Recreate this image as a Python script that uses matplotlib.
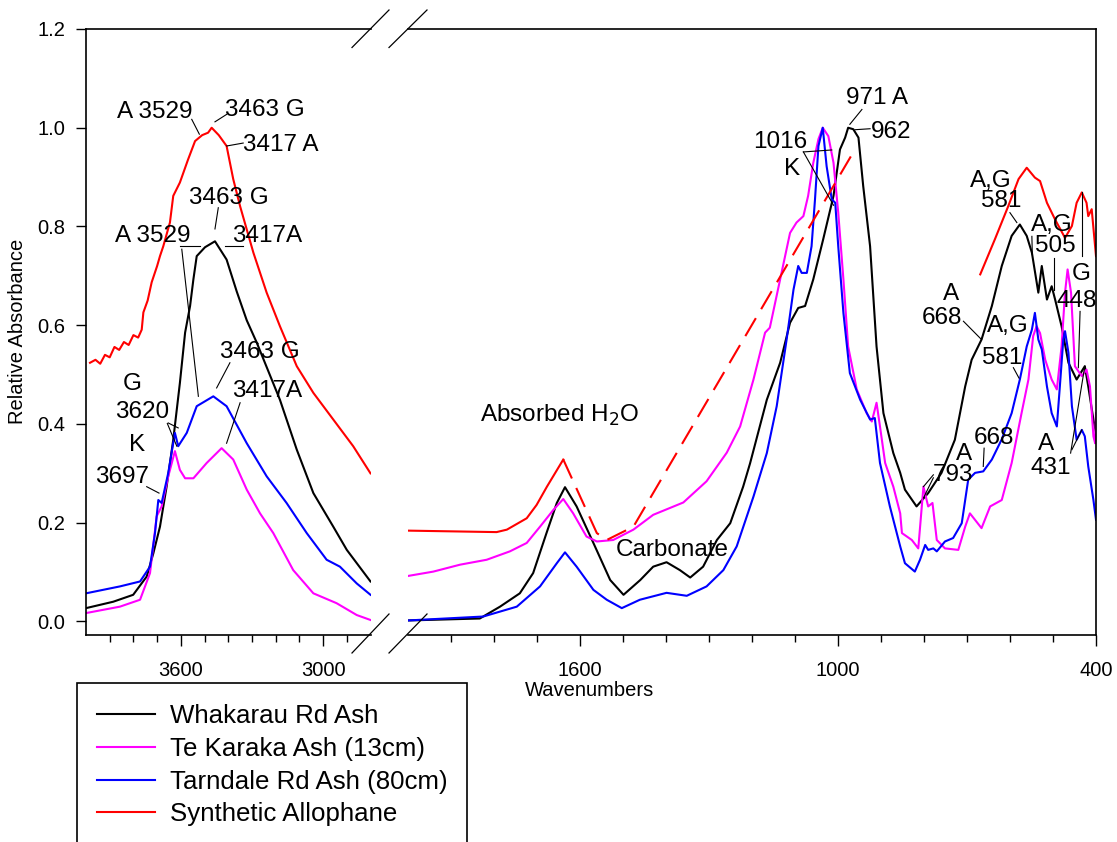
import matplotlib
matplotlib.use("Agg")
import matplotlib.pyplot as plt
from matplotlib.lines import Line2D
from matplotlib.patches import Rectangle

plt.rcParams['font.family'] = ['Liberation Sans', 'DejaVu Sans']

# ---- data: OH-stretch region (left panel) ----
wn_l_black = [4000, 3885, 3801, 3744, 3716, 3688, 3660, 3632, 3604, 3582, 3561, 3547, 3533, 3498, 3456,
              3407, 3364, 3322, 3280, 3182, 3111, 3041, 2957, 2900, 2800]
ab_l_black = [0.027, 0.040, 0.054, 0.091, 0.138, 0.192, 0.273, 0.368, 0.483, 0.585, 0.639, 0.693, 0.740, 0.758, 0.770,
              0.733, 0.668, 0.610, 0.565, 0.449, 0.348, 0.260, 0.192, 0.145, 0.081]

wn_l_mag = [4000, 3857, 3772, 3730, 3702, 3681, 3653, 3625, 3604, 3582, 3547, 3491, 3428, 3379, 3322,
            3266, 3210, 3126, 3041, 2943, 2858, 2800]
ab_l_mag = [0.017, 0.030, 0.044, 0.098, 0.213, 0.233, 0.294, 0.345, 0.307, 0.290, 0.290, 0.321, 0.351, 0.328, 0.267,
            0.219, 0.179, 0.104, 0.057, 0.037, 0.013, 0.003]

wn_l_blue = [4000, 3857, 3772, 3730, 3709, 3695, 3681, 3653, 3625, 3611, 3575, 3533, 3463, 3407, 3322,
             3238, 3154, 3069, 2985, 2929, 2858, 2800]
ab_l_blue = [0.057, 0.071, 0.081, 0.111, 0.179, 0.246, 0.240, 0.301, 0.382, 0.355, 0.382, 0.436, 0.456, 0.436, 0.361,
             0.294, 0.240, 0.179, 0.125, 0.111, 0.077, 0.054]

wn_l_red = [3983, 3960, 3940, 3920, 3900, 3880, 3860, 3840, 3820, 3800, 3780, 3765, 3758, 3740, 3723, 3700,
            3688, 3674, 3646, 3632, 3604, 3570, 3540, 3510, 3485, 3470, 3440, 3407, 3379, 3350, 3294,
            3238, 3182, 3111, 3041, 2957, 2873, 2800]
ab_l_red = [0.524, 0.530, 0.522, 0.540, 0.535, 0.556, 0.550, 0.566, 0.560, 0.580, 0.575, 0.591, 0.626, 0.650, 0.687, 0.720,
            0.740, 0.760, 0.808, 0.862, 0.889, 0.935, 0.973, 0.985, 0.990, 1.000, 0.985, 0.963, 0.896, 0.841, 0.747,
            0.666, 0.598, 0.517, 0.463, 0.409, 0.355, 0.300]

# ---- data: fingerprint region (right panel) ----
wn_r_black = [2000, 1832, 1785, 1739, 1708, 1677, 1653, 1634, 1607, 1568, 1529, 1498, 1459, 1429, 1398, 1367,
              1343, 1313, 1281, 1250, 1220, 1204, 1165, 1134, 1111, 1092, 1076, 1057, 1034, 1010, 995, 983,
              976, 964, 952, 941, 925, 910, 894, 871, 855, 844, 817, 790, 759, 728, 704, 689, 666, 642, 619,
              596, 577, 561, 549, 534, 526, 514, 503, 495, 480, 464, 445, 426, 418, 406, 400]
ab_r_black = [0.002, 0.006, 0.030, 0.057, 0.098, 0.179, 0.240, 0.272, 0.233, 0.159, 0.084, 0.054, 0.084, 0.111, 0.120, 0.104,
              0.089, 0.111, 0.165, 0.199, 0.273, 0.320, 0.449, 0.524, 0.605, 0.635, 0.639, 0.693, 0.774, 0.862, 0.956, 0.980,
              1.000, 0.997, 0.980, 0.882, 0.760, 0.557, 0.422, 0.341, 0.301, 0.267, 0.233, 0.260, 0.301, 0.368, 0.476, 0.530, 0.571, 0.639, 0.720,
              0.781, 0.804, 0.781, 0.747, 0.666, 0.720, 0.652, 0.679, 0.652, 0.598, 0.524, 0.490, 0.517, 0.476, 0.409, 0.382]

wn_r_mag = [2000, 1940, 1878, 1816, 1762, 1723, 1692, 1661, 1638, 1615, 1584, 1560, 1522, 1475, 1429, 1359,
            1305, 1258, 1227, 1196, 1169, 1158, 1134, 1111, 1096, 1080, 1069, 1057, 1045, 1035, 1022, 1010,
            999, 987, 976, 956, 933, 921, 910, 902, 890, 871, 855, 851, 828, 813, 801, 790, 780, 770, 751,
            720, 704, 693, 666, 646, 619, 596, 573, 557, 546, 538, 530, 518, 503, 491, 480, 472, 466, 458,
            449, 433, 422, 414, 406, 402, 400]
ab_r_mag = [0.092, 0.101, 0.115, 0.125, 0.142, 0.159, 0.192, 0.226, 0.248, 0.219, 0.172, 0.162, 0.165, 0.186, 0.216, 0.241,
            0.284, 0.342, 0.395, 0.490, 0.585, 0.595, 0.693, 0.787, 0.808, 0.821, 0.862, 0.929, 0.977, 1.000, 0.983, 0.929,
            0.828, 0.693, 0.557, 0.470, 0.422, 0.405, 0.443, 0.395, 0.321, 0.273, 0.219, 0.179, 0.165, 0.148, 0.273, 0.233, 0.240, 0.165, 0.148,
            0.145, 0.192, 0.219, 0.189, 0.233, 0.246, 0.321, 0.422, 0.490, 0.578, 0.598, 0.584, 0.530, 0.490, 0.470, 0.557, 0.666, 0.713, 0.666,
            0.517, 0.497, 0.510, 0.476, 0.375, 0.361, 0.422]

wn_r_blue = [2000, 1824, 1746, 1692, 1653, 1634, 1607, 1568, 1537, 1502, 1460, 1398, 1351, 1305, 1266, 1235,
             1196, 1165, 1142, 1119, 1103, 1092, 1084, 1072, 1061, 1053, 1045, 1035, 1026, 1014, 1006, 999,
             987, 972, 948, 925, 914, 902, 879, 855, 844, 821, 809, 797, 790, 778, 770, 751, 732, 712, 697,
             681, 662, 642, 619, 596, 577, 561, 549, 542, 534, 526, 514, 503, 491, 484, 476, 472, 464, 456,
             445, 433, 426, 418, 406, 400]
ab_r_blue = [0.002, 0.010, 0.030, 0.071, 0.118, 0.140, 0.111, 0.064, 0.044, 0.027, 0.044, 0.058, 0.052, 0.071, 0.104, 0.152,
             0.253, 0.341, 0.436, 0.571, 0.672, 0.720, 0.706, 0.706, 0.760, 0.855, 0.963, 1.000, 0.922, 0.855, 0.848, 0.760,
             0.625, 0.503, 0.449, 0.409, 0.412, 0.321, 0.233, 0.152, 0.118, 0.101, 0.125, 0.155, 0.145, 0.148, 0.142, 0.162, 0.169, 0.199, 0.287,
             0.301, 0.304, 0.328, 0.369, 0.422, 0.490, 0.557, 0.591, 0.625, 0.571, 0.551, 0.476, 0.422, 0.395, 0.476, 0.571, 0.588, 0.544, 0.436,
             0.368, 0.388, 0.375, 0.314, 0.246, 0.206]

wn_r_red1 = [2000, 1793, 1769, 1723, 1700, 1676, 1638]
ab_r_red1 = [0.184, 0.181, 0.186, 0.209, 0.236, 0.273, 0.328]
wn_r_red_gap = [1638, 1560, 1537, 1475, 967]
ab_r_red_gap = [0.328, 0.179, 0.165, 0.192, 0.946]
wn_r_red2 = [669, 635, 604, 580, 561, 542, 530, 514, 495, 472, 456, 445, 433, 422, 418, 410, 400]
ab_r_red2 = [0.703, 0.774, 0.841, 0.896, 0.919, 0.899, 0.892, 0.848, 0.814, 0.777, 0.801, 0.848, 0.869, 0.848, 0.821, 0.835, 0.740]

series_names = ['Whakarau Rd Ash', 'Te Karaka Ash (13cm)', 'Tarndale Rd Ash (80cm)', 'Synthetic Allophane']
series_colors = ['black', '#ff00ff', '#0000ff', '#ff0000']

fig = plt.figure(figsize=(11.17, 8.42), dpi=100)
W, H = 1117.0, 842.0
bottom = 1 - 634.5 / H
height = (634.5 - 29) / H
axL = fig.add_axes([86 / W, bottom, (370.5 - 86) / W, height])
axR = fig.add_axes([407.5 / W, bottom, (1096 - 407.5) / W, height])

lw = 1.5
axL.plot(wn_l_black, ab_l_black, color='black', lw=lw)
axL.plot(wn_l_mag, ab_l_mag, color='#ff00ff', lw=lw)
axL.plot(wn_l_blue, ab_l_blue, color='#0000ff', lw=lw)
axL.plot(wn_l_red, ab_l_red, color='#ff0000', lw=lw)

axR.plot(wn_r_black, ab_r_black, color='black', lw=lw)
axR.plot(wn_r_mag, ab_r_mag, color='#ff00ff', lw=lw)
axR.plot(wn_r_blue, ab_r_blue, color='#0000ff', lw=lw)
axR.plot(wn_r_red1, ab_r_red1, color='#ff0000', lw=lw)
axR.plot(wn_r_red_gap, ab_r_red_gap, color='#ff0000', lw=lw, ls=(0, (10, 5)))
axR.plot(wn_r_red2, ab_r_red2, color='#ff0000', lw=lw)

ylo, yhi = -0.0264, 1.2
axL.set_xlim(4000, 2800)
axR.set_xlim(2000, 400)
for ax in (axL, axR):
    ax.set_ylim(ylo, yhi)
    for s in ax.spines.values():
        s.set_linewidth(1.2)
    ax.tick_params(axis='x', which='major', direction='out', length=8, width=1, pad=11, labelsize=14.5)
    ax.tick_params(axis='x', which='minor', direction='out', length=5, width=1)

axL.spines['right'].set_visible(False)
axR.spines['left'].set_visible(False)
axL.set_xticks([3600, 3000])
axL.set_xticks([w for w in range(3900, 2800, -100) if w not in (3600, 3000)], minor=True)
axR.set_xticks([1600, 1000, 400])
axR.set_xticks([w for w in range(1900, 400, -100) if w not in (1600, 1000)], minor=True)
axL.set_yticks([0.0, 0.2, 0.4, 0.6, 0.8, 1.0, 1.2])
axL.set_yticklabels(['0.0', '0.2', '0.4', '0.6', '0.8', '1.0', '1.2'])
axL.tick_params(axis='y', direction='out', length=7, width=1, pad=8, labelsize=14.5)
axR.tick_params(axis='y', left=False, right=False, labelleft=False)

fig.text(18 / W, 1 - 331 / H, 'Relative Absorbance', rotation=90, ha='center', va='center', fontsize=14.5)
fig.text(590 / W, 1 - 691 / H, 'Wavenumbers', ha='center', va='center', fontsize=14.5)

# axis-break marks
for xa, xb in ((352, 389), (389, 427)):
    fig.add_artist(Line2D([xa / W, xb / W], [1 - 653 / H, 1 - 614 / H], color='black', lw=0.9))
    fig.add_artist(Line2D([xa / W, xb / W], [1 - 47.5 / H, 1 - 10 / H], color='black', lw=0.9))

fs = 17.5
def lab(ax, x, y, s, ha='left'):
    ax.text(x, y, s, ha=ha, va='center', fontsize=fs)

def lead(ax, x0, y0, x1, y1):
    ax.plot([x0, x1], [y0, y1], color='black', lw=0.8)

# left panel labels
lab(axL, 3868, 1.031, 'A 3529')
lab(axL, 3414, 1.035, '3463 G')
lab(axL, 3337, 0.966, '3417 A')
lead(axL, 3554, 1.017, 3522, 0.987)
lead(axL, 3456, 1.012, 3407, 1.027)
lead(axL, 3407, 0.963, 3337, 0.969)

lab(axL, 3564, 0.857, '3463 G')
lead(axL, 3442, 0.838, 3456, 0.795)
lab(axL, 3878, 0.781, 'A 3529')
lead(axL, 3604, 0.760, 3519, 0.760)
lead(axL, 3596, 0.754, 3526, 0.456)
lab(axL, 3386, 0.781, '3417A')
lead(axL, 3414, 0.760, 3337, 0.760)

lab(axL, 3435, 0.546, '3463 G')
lead(axL, 3393, 0.524, 3449, 0.473)
lab(axL, 3386, 0.466, '3417A')
lead(axL, 3350, 0.443, 3407, 0.361)

lab(axL, 3807, 0.480, 'G', ha='center')
lab(axL, 3878, 0.424, '3620')
lead(axL, 3653, 0.402, 3611, 0.392)
lead(axL, 3657, 0.401, 3617, 0.355)
lab(axL, 3784, 0.358, 'K', ha='center')
lab(axL, 3962, 0.292, '3697')
lead(axL, 3744, 0.273, 3692, 0.260)

# right panel labels
lab(axR, 1832, 0.417, 'Absorbed H$_2$O')
lab(axR, 1515, 0.145, 'Carbonate')
lab(axR, 1196, 0.972, '1016')
lab(axR, 1107, 0.916, 'K', ha='center')
lead(axR, 1080, 0.951, 1014, 0.955)
lead(axR, 1080, 0.951, 1010, 0.843)
lab(axR, 981, 1.061, '971 A')
lead(axR, 944, 1.037, 972, 1.007)
lab(axR, 923, 0.992, '962')
lead(axR, 925, 0.998, 960, 0.996)

lab(axR, 644, 0.892, 'A,G', ha='center')
lab(axR, 621, 0.851, '581', ha='center')
lead(axR, 600, 0.828, 584, 0.808)
lab(axR, 503, 0.804, 'A,G', ha='center')
lab(axR, 495, 0.760, '505', ha='center')
lead(axR, 549, 0.780, 548, 0.743)
lead(axR, 497, 0.737, 497, 0.672)
lab(axR, 435, 0.703, 'G', ha='center')
lab(axR, 445, 0.649, '448', ha='center')
lead(axR, 433, 0.869, 433, 0.740)
lead(axR, 437, 0.628, 441, 0.514)

lab(axR, 737, 0.664, 'A', ha='center')
lab(axR, 758, 0.614, '668', ha='center')
lead(axR, 708, 0.608, 666, 0.571)
lab(axR, 606, 0.598, 'A,G', ha='center')
lab(axR, 619, 0.534, '581', ha='center')
lead(axR, 592, 0.514, 579, 0.493)
lab(axR, 637, 0.372, '668', ha='center')
lead(axR, 660, 0.351, 662, 0.314)
lab(axR, 706, 0.340, 'A', ha='center')
lab(axR, 733, 0.296, '793', ha='center')
lead(axR, 778, 0.297, 801, 0.273)
lead(axR, 778, 0.291, 801, 0.250)
lab(axR, 515, 0.360, 'A', ha='center')
lab(axR, 505, 0.311, '431', ha='center')
lead(axR, 459, 0.341, 426, 0.517)
lead(axR, 456, 0.348, 433, 0.388)

# legend, frame cut off by the bottom edge
fig.add_artist(Rectangle((77 / W, -0.05), (467 - 77) / W, 0.05 + 1 - 683 / H,
                         transform=fig.transFigure, fill=False, lw=1.2, ec='black'))
handles = [Line2D([], [], color=c, lw=1.5) for c in series_colors]
fig.legend(handles, series_names, loc='upper left', bbox_to_anchor=(96.7 / W, 1 - 704 / H),
           frameon=False, fontsize=18.6, handlelength=2.25, handletextpad=0.57,
           labelspacing=0.34, borderpad=0, borderaxespad=0)

fig.savefig('out.png', dpi=100)
